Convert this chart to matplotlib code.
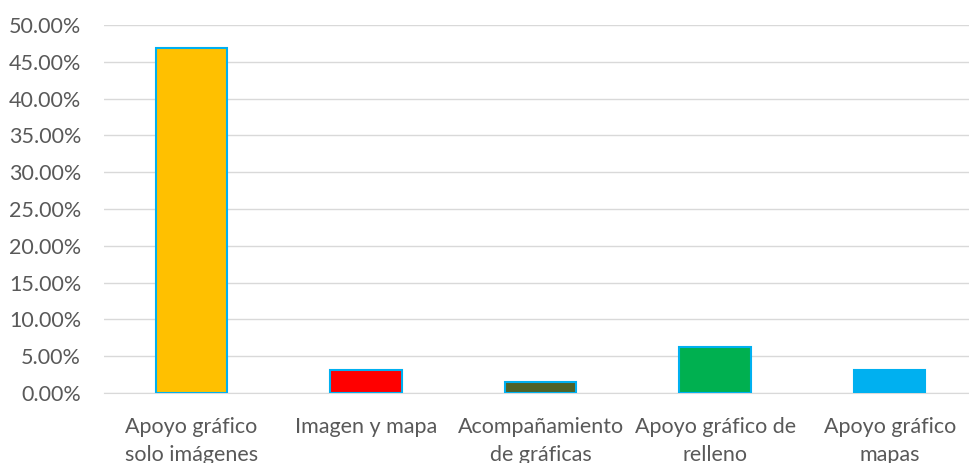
import matplotlib
matplotlib.use('Agg')
import matplotlib.pyplot as plt
from matplotlib.ticker import FuncFormatter

plt.rcParams['font.family'] = ['Lato', 'DejaVu Sans']

categorias = ['Apoyo gráfico\nsolo imágenes', 'Imagen y mapa', 'Acompañamiento\nde gráficas',
              'Apoyo gráfico de\nrelleno', 'Apoyo gráfico\nmapas']
valores = [0.46875, 0.03125, 0.015625, 0.0625, 0.03125]
colores = ['#FFC000', '#FF0000', '#4F6228', '#00B050', '#00B0F0']

fig = plt.figure(figsize=(9.69, 4.63), dpi=100)
ax = fig.add_axes([104 / 969, 70 / 463, 873 / 969, 368 / 463])

ax.bar(range(len(categorias)), valores, width=0.41, color=colores,
       edgecolor='#00B0F0', linewidth=1.5, zorder=3)

ax.set_xlim(-0.5, 4.5)
ax.set_ylim(0, 0.5)
ax.set_yticks([i * 0.05 for i in range(11)])
ax.yaxis.set_major_formatter(FuncFormatter(lambda v, p: f'{v * 100:.2f}%'))
ax.grid(axis='y', color='#D9D9D9', linewidth=1, zorder=0)
for s in ['top', 'right', 'left']:
    ax.spines[s].set_visible(False)
ax.spines['bottom'].set_color('#D9D9D9')
ax.tick_params(axis='both', length=0, labelsize=15.5, labelcolor='#595959')
ax.tick_params(axis='y', pad=16.5)
ax.tick_params(axis='x', pad=17)
ax.set_xticks(range(len(categorias)))
ax.set_xticklabels(categorias, linespacing=1.5)

plt.savefig('out.png', dpi=100)
